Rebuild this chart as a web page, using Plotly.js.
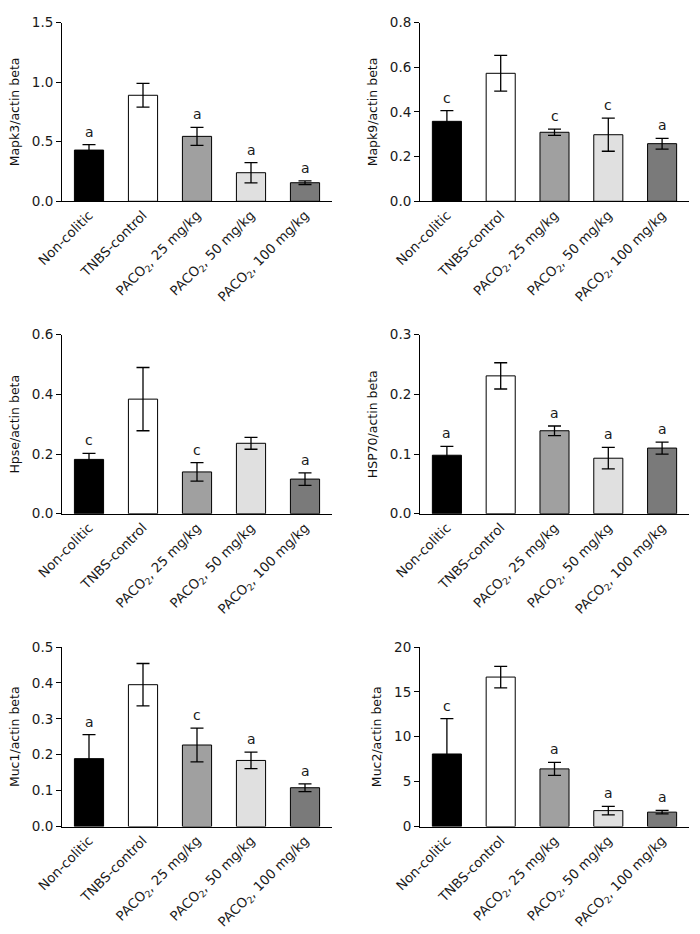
<!DOCTYPE html>
<html>
<head>
<meta charset="utf-8">
<script src="https://cdn.plot.ly/plotly-3.0.1.min.js"></script>
<style>html,body{margin:0;padding:0;background:#fff;}#chart{width:700px;height:934px;}</style>
</head>
<body>
<div id="chart"></div>
<script>
// Data
var categories = ["Non-colitic", "TNBS-control", "PACO<sub>2</sub>, 25 mg/kg", "PACO<sub>2</sub>, 50 mg/kg", "PACO<sub>2</sub>, 100 mg/kg"];
var barColors = ["#000000", "#ffffff", "#a0a0a0", "#e0e0e0", "#7a7a7a"];

var mapk3 = [0.43, 0.89, 0.545, 0.24, 0.156];
var mapk3Err = [0.045, 0.10, 0.075, 0.085, 0.015];
var mapk3Sig = ["a", "", "a", "a", "a"];

var mapk9 = [0.358, 0.573, 0.309, 0.298, 0.258];
var mapk9Err = [0.048, 0.08, 0.014, 0.074, 0.024];
var mapk9Sig = ["c", "", "c", "c", "a"];

var hpse = [0.182, 0.384, 0.14, 0.236, 0.116];
var hpseErr = [0.02, 0.106, 0.031, 0.02, 0.021];
var hpseSig = ["c", "", "c", "", "a"];

var hsp70 = [0.098, 0.231, 0.139, 0.093, 0.11];
var hsp70Err = [0.015, 0.022, 0.008, 0.018, 0.01];
var hsp70Sig = ["a", "", "a", "a", "a"];

var muc1 = [0.189, 0.395, 0.227, 0.184, 0.108];
var muc1Err = [0.067, 0.059, 0.047, 0.023, 0.011];
var muc1Sig = ["a", "", "c", "a", "a"];

var muc2 = [8.08, 16.65, 6.42, 1.77, 1.6];
var muc2Err = [3.95, 1.2, 0.72, 0.48, 0.2];
var muc2Sig = ["c", "", "a", "a", "a"];

var panels = [
  {vals: mapk3, err: mapk3Err, sig: mapk3Sig, title: "Mapk3/actin beta", range: [0, 1.5], dtick: 0.5, fmt: ".1f"},
  {vals: mapk9, err: mapk9Err, sig: mapk9Sig, title: "Mapk9/actin beta", range: [0, 0.8], dtick: 0.2, fmt: ".1f"},
  {vals: hpse, err: hpseErr, sig: hpseSig, title: "Hpse/actin beta", range: [0, 0.6], dtick: 0.2, fmt: ".1f"},
  {vals: hsp70, err: hsp70Err, sig: hsp70Sig, title: "HSP70/actin beta", range: [0, 0.3], dtick: 0.1, fmt: ".1f"},
  {vals: muc1, err: muc1Err, sig: muc1Sig, title: "Muc1/actin beta", range: [0, 0.5], dtick: 0.1, fmt: ".1f"},
  {vals: muc2, err: muc2Err, sig: muc2Sig, title: "Muc2/actin beta", range: [0, 20], dtick: 5, fmt: "d"}
];

var W = 700, H = 934;
var xDomains = [[62 / W, 332 / W], [420 / W, 689 / W]];
var yDomains = [
  [1 - 201.3 / H, 1 - 22.6 / H],
  [1 - 513.7 / H, 1 - 334.7 / H],
  [1 - 826.5 / H, 1 - 647 / H]
];

var font = "DejaVu Sans, Verdana, sans-serif";
var data = [];
var layout = {
  width: W, height: H,
  margin: {l: 0, r: 0, t: 0, b: 0},
  paper_bgcolor: "#ffffff",
  plot_bgcolor: "#ffffff",
  showlegend: false,
  font: {family: font, color: "#1a1a1a"},
  annotations: []
};

panels.forEach(function (p, i) {
  var n = i + 1;
  var xa = n === 1 ? "x" : "x" + n;
  var ya = n === 1 ? "y" : "y" + n;
  data.push({
    type: "bar",
    x: categories,
    y: p.vals,
    xaxis: xa, yaxis: ya,
    width: 0.54,
    marker: {color: barColors, line: {color: "#000000", width: 1}},
    error_y: {type: "data", array: p.err, visible: true, color: "#000000", thickness: 1.3, width: 6.5},
    hoverinfo: "none"
  });
  var col = i % 2, row = Math.floor(i / 2);
  layout["xaxis" + (n === 1 ? "" : n)] = {
    domain: xDomains[col],
    anchor: ya,
    type: "category",
    range: [-0.5, 4.5],
    showline: true, linecolor: "#000000", linewidth: 1,
    showgrid: false, zeroline: false,
    ticks: "",
    tickangle: -45,
    tickfont: {family: font, size: 13.3, color: "#1a1a1a"},
    fixedrange: true
  };
  layout["yaxis" + (n === 1 ? "" : n)] = {
    domain: yDomains[row],
    anchor: xa,
    range: p.range,
    dtick: p.dtick,
    tick0: 0,
    tickformat: p.fmt,
    showline: true, linecolor: "#000000", linewidth: 1,
    showgrid: false, zeroline: false,
    ticks: "outside", ticklen: 5, tickcolor: "#000000", tickwidth: 1,
    tickfont: {family: font, size: 13.5, color: "#1a1a1a"},
    title: {text: p.title, font: {family: font, size: 12.5, color: "#111111"}, standoff: 9},
    fixedrange: true
  };
  p.sig.forEach(function (s, k) {
    if (!s) return;
    layout.annotations.push({
      xref: xa, yref: ya,
      x: categories[k], y: p.vals[k] + p.err[k],
      text: s, showarrow: false,
      yanchor: "bottom", yshift: 3,
      font: {family: font, size: 14, color: "#1a1a1a"}
    });
  });
});

Plotly.newPlot("chart", data, layout, {displayModeBar: false, staticPlot: true});
</script>
</body>
</html>
